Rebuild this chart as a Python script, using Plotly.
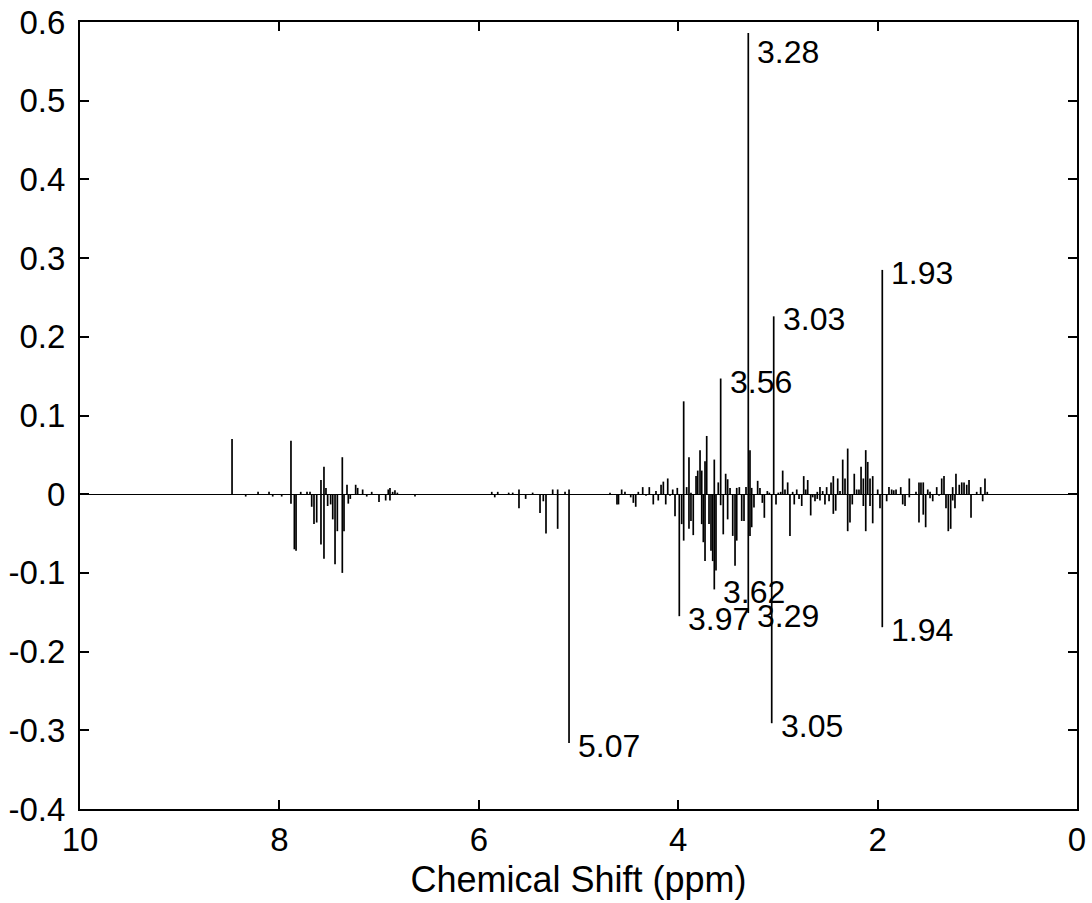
import plotly.graph_objects as go

# ---- data: chemical shift (ppm) and stem intensity ----
ppm = [
    8.475, 8.338, 8.214, 8.104, 8.067, 7.977, 7.884, 7.884, 7.850, 7.833,
    7.786, 7.723, 7.693, 7.676, 7.653, 7.626, 7.583, 7.583, 7.553, 7.553,
    7.533, 7.516, 7.486, 7.465, 7.442, 7.419, 7.369, 7.369, 7.352, 7.322,
    7.309, 7.289, 7.235, 7.215, 7.165, 7.124, 7.074, 7.001, 6.934, 6.908,
    6.891, 6.891, 6.864, 6.841, 6.817, 6.640,
    5.87, 5.84, 5.81, 5.70, 5.66, 5.597, 5.597, 5.530, 5.46, 5.386,
    5.353, 5.326, 5.259, 5.209, 5.209, 5.135, 5.095, 5.095,
    4.684, 4.614, 4.599, 4.567, 4.534, 4.476, 4.450, 4.426, 4.400, 4.356,
    4.323, 4.290, 4.250, 4.223, 4.200, 4.172, 4.149, 4.125, 4.105, 4.082,
    4.055, 4.032, 4.009, 3.989, 3.965, 3.945, 3.945, 3.915, 3.892, 3.892,
    3.872, 3.872, 3.849, 3.821, 3.804, 3.781, 3.764, 3.764, 3.748, 3.731,
    3.731, 3.714, 3.691, 3.671, 3.654, 3.638, 3.638, 3.621, 3.598, 3.574,
    3.574, 3.548, 3.524, 3.504, 3.504, 3.480, 3.453, 3.430, 3.413, 3.413,
    3.387, 3.363, 3.340, 3.320, 3.297, 3.297, 3.280, 3.280, 3.263, 3.263,
    3.240, 3.203, 3.180, 3.156, 3.136, 3.106, 3.086, 3.062, 3.042, 3.019,
    2.996, 2.972, 2.952, 2.929, 2.902, 2.879, 2.852, 2.836, 2.811,
    2.788, 2.761, 2.741, 2.721, 2.701, 2.671, 2.651, 2.628, 2.605, 2.605,
    2.578, 2.578, 2.551, 2.528, 2.511, 2.487, 2.467, 2.444, 2.444, 2.420,
    2.400, 2.377, 2.350, 2.327, 2.300, 2.300, 2.277, 2.254, 2.234, 2.210,
    2.187, 2.166, 2.143, 2.143, 2.119, 2.119, 2.099, 2.076, 2.076, 2.049,
    2.049, 1.999, 1.976, 1.953, 1.953, 1.909, 1.886, 1.859, 1.838, 1.815,
    1.768, 1.748, 1.725, 1.682, 1.682, 1.615, 1.585, 1.585, 1.565, 1.542,
    1.542, 1.518, 1.497, 1.474, 1.474, 1.447, 1.407, 1.384, 1.357, 1.334,
    1.314, 1.291, 1.267, 1.247, 1.247, 1.224, 1.214, 1.181, 1.156, 1.133,
    1.106, 1.083, 1.063, 1.006, 0.966, 0.946, 0.923, 0.900,
]
intensity = [
    0.070, -0.003, 0.003, 0.003, -0.003, -0.003, 0.068, -0.012, -0.070, -0.072,
    0.003, 0.003, 0.003, -0.016, -0.038, -0.036, 0.018, -0.064, 0.035, -0.082,
    0.008, -0.015, -0.013, -0.032, -0.089, -0.047, 0.047, -0.100, -0.047, 0.012,
    -0.012, -0.006, 0.012, 0.008, 0.006, -0.003, 0.003, -0.010, -0.008, 0.006,
    0.008, -0.008, 0.003, 0.005, 0.002, -0.003,
    0.003, -0.004, 0.003, 0.002, 0.002, 0.006, -0.018, -0.006, 0.002, -0.024,
    -0.009, -0.050, 0.006, 0.006, -0.044, 0.003, 0.006, -0.316,
    0.002, -0.013, -0.013, 0.006, 0.003, -0.004, -0.011, -0.016, 0.003, 0.009,
    -0.002, 0.009, -0.013, 0.004, -0.008, 0.012, 0.016, -0.013, 0.020, -0.002,
    0.006, -0.028, 0.008, -0.155, -0.038, 0.118, -0.059, 0.009, 0.047, -0.044,
    0.002, -0.034, -0.052, 0.023, 0.030, 0.056, 0.030, -0.038, -0.061, 0.042,
    -0.085, 0.074, -0.038, -0.072, -0.085, 0.044, -0.121, -0.097, 0.015, 0.147,
    -0.014, -0.051, 0.026, 0.019, -0.032, 0.008, -0.053, -0.091, 0.008, -0.059,
    0.009, -0.034, -0.034, 0.009, 0.586, -0.151, 0.056, -0.053, 0.008, -0.042,
    -0.017, 0.017, 0.008, -0.011, -0.030, 0.004, 0.002, -0.291, 0.226, -0.013,
    0.002, 0.003, 0.030, 0.006, 0.015, -0.053, 0.003, -0.013, 0.006,
    -0.006, -0.015, 0.023, 0.006, 0.018, -0.027, -0.004, -0.009, 0.003, -0.006,
    0.009, -0.008, 0.004, -0.013, 0.009, -0.009, 0.015, 0.023, -0.025, -0.021,
    0.020, 0.004, 0.044, 0.020, 0.058, -0.047, -0.036, -0.013, 0.026, 0.006,
    0.006, 0.035, 0.020, -0.015, 0.056, -0.047, 0.041, 0.020, -0.015, 0.023,
    -0.037, 0.006, -0.018, 0.285, -0.169, -0.009, 0.009, 0.006, 0.005, 0.006,
    0.009, -0.013, -0.015, 0.020, -0.004, 0.003, 0.015, -0.036, 0.015, 0.015,
    -0.026, -0.042, 0.006, 0.003, -0.005, -0.009, 0.009, -0.002, 0.020, 0.023,
    -0.018, -0.047, -0.044, 0.009, -0.008, -0.018, 0.026, 0.012, 0.015, 0.015,
    0.012, 0.018, -0.030, 0.003, 0.009, -0.009, 0.020, 0.003,
]

# labelled peaks: text, peak ppm, peak intensity
label_text = ["3.28", "3.29", "3.56", "3.62", "3.97", "3.03", "3.05", "1.93", "1.94", "5.07"]
label_ppm = [3.297, 3.297, 3.574, 3.638, 3.989, 3.042, 3.062, 1.953, 1.953, 5.095]
label_val = [0.586, -0.151, 0.147, -0.121, -0.155, 0.226, -0.291, 0.285, -0.169, -0.316]

x_title = "Chemical Shift (ppm)"
x_ticks = [0, 2, 4, 6, 8, 10]
y_ticks = [-0.4, -0.3, -0.2, -0.1, 0, 0.1, 0.2, 0.3, 0.4, 0.5, 0.6]
y_tick_labels = ["-0.4", "-0.3", "-0.2", "-0.1", "0", "0.1", "0.2", "0.3", "0.4", "0.5", "0.6"]

# build stems
sx, sy = [], []
for p, v in zip(ppm, intensity):
    sx += [p, p, None]
    sy += [0, v, None]

FONT = "Arial, Liberation Sans, sans-serif"

fig = go.Figure()
fig.add_trace(go.Scatter(x=sx, y=sy, mode="lines",
                         line=dict(color="black", width=1.7),
                         hoverinfo="skip", showlegend=False))

for t, p, v in zip(label_text, label_ppm, label_val):
    fig.add_annotation(x=p, y=v, text=t, showarrow=False,
                       xanchor="left", yanchor="middle",
                       xshift=7, yshift=(-19 if t == "3.28" else -3),
                       font=dict(family=FONT, size=32, color="black"))

axis_common = dict(showline=True, linecolor="black", linewidth=2, mirror="ticks",
                   ticks="inside", ticklen=9, tickwidth=1.5, tickcolor="black",
                   showgrid=False, automargin=False,
                   tickfont=dict(family=FONT, size=33, color="black"))

fig.update_xaxes(range=[10, 0], tickvals=x_ticks, zeroline=False, **axis_common)
fig.update_yaxes(range=[-0.4, 0.6], tickvals=y_ticks, ticktext=y_tick_labels,
                 zeroline=True, zerolinecolor="black", zerolinewidth=1.2,
                 ticklabelstandoff=6,
                 **axis_common)

# x-axis title drawn as the layout title, anchored near the bottom of the figure
fig.update_layout(title=dict(text=x_title, x=0.5, xref="paper", xanchor="center",
                             y=0.012, yref="container", yanchor="bottom",
                             pad=dict(b=0, t=0),
                             font=dict(family=FONT, size=36, color="black")),
                  width=1092, height=903,
                  margin=dict(l=80, r=15, t=22, b=94, autoexpand=False),
                  plot_bgcolor="white", paper_bgcolor="white")

fig.write_html("out.html")
